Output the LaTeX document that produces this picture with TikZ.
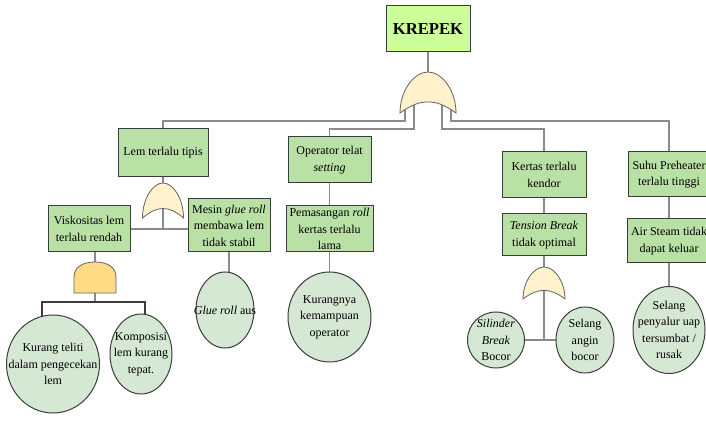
\documentclass[tikz,border=0pt]{standalone}
\usepackage{fontspec}
\setmainfont{Liberation Serif}
\usetikzlibrary{shapes.geometric,calc}
\pgfdeclarelayer{background}
\pgfsetlayers{background,main}
\definecolor{topfill}{HTML}{CCFF99}
\definecolor{boxfill}{HTML}{B9E0A5}
\definecolor{circfill}{HTML}{D5E8D4}
\definecolor{orfill}{HTML}{FFF2CC}
\definecolor{andfill}{HTML}{FFDB85}
\definecolor{edgecol}{HTML}{3C3C3C}
\definecolor{wirecol}{HTML}{8A8A8A}
\tikzset{
  txt/.style={font=\fontsize{9}{12.4}\selectfont, align=center, inner sep=0pt},
  evbox/.style={draw=edgecol, line width=0.75pt, fill=boxfill, txt, inner sep=0.5pt},
  basicev/.style={ellipse, draw=edgecol, line width=0.75pt, fill=circfill, inner sep=0pt},
  wire/.style={draw=wirecol, line width=1pt},
  andwire/.style={draw=edgecol, line width=1.2pt},
  gateline/.style={draw=edgecol!80, line width=0.6pt},
  orgate/.pic={
    \draw[gateline, fill=orfill] (-0.5,1) .. controls (-0.5,0.45) and (-0.25,0) .. (0,0)
      .. controls (0.25,0) and (0.5,0.45) .. (0.5,1)
      .. controls (0.3,0.8) and (0.15,0.73) .. (0,0.73)
      .. controls (-0.15,0.73) and (-0.3,0.8) .. (-0.5,1) -- cycle;
    \coordinate (-top) at (0,0);
    \coordinate (-apex) at (0,0.73);
    \coordinate (-l1) at (-0.41,0.6);
    \coordinate (-l2) at (-0.25,0.6);
    \coordinate (-r1) at (0.25,0.6);
    \coordinate (-r2) at (0.41,0.6);
  },
  andgate/.pic={
    \draw[gateline, fill=andfill] (-0.5,1) -- (-0.5,0.5) .. controls (-0.5,0.15) and (-0.28,0) .. (0,0)
      .. controls (0.28,0) and (0.5,0.15) .. (0.5,0.5) -- (0.5,1) -- cycle;
    \coordinate (-top) at (0,0);
    \coordinate (-bot) at (0,1);
  }
}
\begin{document}
\begin{tikzpicture}[x=0.75pt,y=-0.75pt]
\begin{pgfonlayer}{background}
\fill[white] (0,0) rectangle (706,423);
\end{pgfonlayer}
\useasboundingbox (0,0) rectangle (706,423);

% top event
\node[evbox, fill=topfill, font=\fontsize{12.5}{14}\selectfont\bfseries, minimum width=63pt, minimum height=34.5pt] (krepek) at (428,29) {KREPEK};

% level 1 boxes
\node[evbox, minimum width=67.5pt, minimum height=36pt] (lem) at (163,153) {Lem terlalu tipis};
\node[evbox, minimum width=62.25pt, minimum height=34.5pt] (oper) at (329.5,160) {Operator telat\\\textit{setting}};
\node[evbox, minimum width=63pt, minimum height=34.5pt] (kert) at (544,175) {Kertas terlalu\\kendor};
\node[evbox, minimum width=61.5pt, minimum height=33.75pt] (suhu) at (669,174.5) {Suhu Preheater\\terlalu tinggi};

% level 2 boxes
\node[evbox, minimum width=61.5pt, minimum height=34.5pt] (visk) at (89,229) {Viskositas lem\\terlalu rendah};
\node[evbox, minimum width=61.5pt, minimum height=39.75pt] (mesin) at (229,225.5) {Mesin \textit{glue roll}\\membawa lem\\tidak stabil};
\node[evbox, minimum width=65.25pt, minimum height=34.5pt] (pem) at (329.5,229) {Pemasangan \textit{roll}\\kertas terlalu\\lama};
\node[evbox, minimum width=63pt, minimum height=31.5pt] (tens) at (544,235) {\textit{Tension Break}\\tidak optimal};
\node[evbox, minimum width=63pt, minimum height=33pt] (air) at (669,241) {Air Steam tidak\\dapat keluar};

% basic events
\node[basicev, minimum width=69.75pt, minimum height=73.5pt] (c1) at (53,364) {};
\node[txt] at (c1.center) {Kurang teliti\\dalam pengecekan\\lem};
\node[basicev, minimum width=46.5pt, minimum height=60pt] (c2) at (141,354) {};
\node[txt] at (c2.center) {Komposisi\\lem kurang\\tepat.};
\node[basicev, minimum width=43.5pt, minimum height=57pt] (c3) at (225,310) {};
\node[txt] at (c3.center) {\textit{Glue roll} aus};
\node[basicev, minimum width=62.25pt, minimum height=67.5pt] (c4) at (329.5,317) {};
\node[txt] at (c4.center) {Kurangnya\\kemampuan\\operator};
\node[basicev, minimum width=42.75pt, minimum height=42pt] (c5) at (496,340) {};
\node[txt] at (c5.center) {\textit{Silinder}\\\textit{Break}\\Bocor};
\node[basicev, minimum width=43.5pt, minimum height=49.5pt] (c6) at (585,340) {};
\node[txt] at (c6.center) {Selang\\angin\\bocor};
\node[basicev, minimum width=54pt, minimum height=65.25pt] (c7) at (669,330) {};
\node[txt] at (c7.center) {Selang\\penyalur uap\\tersumbat /\\rusak};

% gates
\pic[xscale=56, yscale=41] (g0) at (428,72) {orgate};
\pic[xscale=41, yscale=35] (g1) at (163,183) {orgate};
\pic[xscale=42, yscale=32] (g2) at (544,267) {orgate};
\pic[xscale=42, yscale=31] (g3) at (95,262) {andgate};

% helper coordinates
\coordinate (h1) at (0,121);
\coordinate (h2) at (0,129);
\coordinate (bl) at (42,302);
\coordinate (br) at (145,302);

\begin{pgfonlayer}{background}
  \draw[wire] (krepek.center) -- (g0-top);
  \draw[wire] (g0-l1) -- (g0-l1 |- h1) -- (h1 -| lem.center) -- (lem.center);
  \draw[wire] (g0-l2) -- (g0-l2 |- h2) -- (h2 -| oper.center) -- (oper.center);
  \draw[wire] (g0-r1) -- (g0-r1 |- h2) -- (h2 -| kert.center) -- (kert.center);
  \draw[wire] (g0-r2) -- (g0-r2 |- h1) -- (h1 -| suhu.center) -- (suhu.center);
  % left branch
  \draw[wire] (lem.center) -- (g1-top);
  \draw[wire] (g1-apex) -- (g1-apex |- visk.center);
  \draw[wire] (visk.center) -- (visk.center -| mesin.center);
  \draw[wire] (g3-top |- visk.center) -- (g3-top);
  \draw[wire] (g3-bot) -- (g3-bot |- bl);
  \draw[andwire] (bl |- c1.center) -- (bl) -- (br) -- (br |- c2.center);
  \draw[wire] (mesin.center) -- (mesin.center |- c3.center);
  % operator branch
  \draw[wire] (oper.center) -- (pem.center) -- (c4.center);
  % kertas branch
  \draw[wire] (kert.center) -- (tens.center) -- (g2-top);
  \draw[wire] (g2-apex) -- (g2-apex |- c5.center);
  \draw[wire] (c5.center) -- (c6.center);
  % suhu branch
  \draw[wire] (suhu.center) -- (air.center) -- (c7.center);
\end{pgfonlayer}
\end{tikzpicture}
\end{document}
